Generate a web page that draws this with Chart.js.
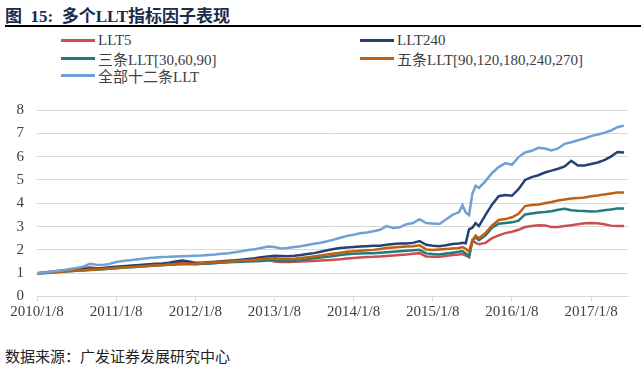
<!DOCTYPE html>
<html>
<head>
<meta charset="utf-8">
<script src="https://cdn.jsdelivr.net/npm/chart.js@4.4.1/dist/chart.umd.min.js"></script>
<style>
  html, body { margin: 0; padding: 0; background: #fff; }
  body { width: 644px; height: 367px; position: relative; overflow: hidden; font-family: "Liberation Serif", "Noto Sans CJK SC", serif; }
  #title { position: absolute; left: 5px; top: 2px; font-size: 17px; font-weight: bold; color: #1c2b4a; white-space: nowrap; }
  #rule { position: absolute; left: 5px; top: 25px; width: 636px; height: 2px; background: #000; }
  #legend { position: absolute; left: 61px; top: 32px; display: grid; grid-template-columns: 299px 260px; }
  .item { height: 17.5px; display: flex; align-items: center; font-size: 15px; color: #404040; white-space: nowrap; }
  .sw { width: 34px; height: 3px; margin-right: 3px; }
  #wrap { position: absolute; left: 0; top: 88px; width: 644px; height: 242px; }
  #source { position: absolute; left: 5px; top: 345px; font-size: 15px; color: #222; font-family: "Noto Sans CJK SC", sans-serif; white-space: nowrap; }
</style>
</head>
<body>
<div id="title">图&nbsp;&nbsp;15:&nbsp;&nbsp;多个LLT指标因子表现</div>
<div id="rule"></div>
<div id="legend"></div>
<div id="wrap"><canvas id="chart"></canvas></div>
<div id="source">数据来源：广发证券发展研究中心</div>
<script>
// months since 2010/1/8
const months = [
  0,1,2,3,4,5,6,7,8,9,10,11,12,13,14,15,16,17,18,19,20,21,22,23,24,25,26,27,28,29,
  30,31,32,33,34,35,36,37,38,39,40,41,42,43,44,45,46,47,48,49,50,51,52,53,54,55,56,57,58,59,
  60,61,62,63,64,64.5,65,65.5,66,66.5,67,
  68,69,70,71,72,73,74,75,76,77,78,79,80,81,82,83,84,85,86,87,88,89
];

const tickMonths = [0, 12, 24, 36, 48, 60, 72, 84];
const tickLabels = ['2010/1/8', '2011/1/8', '2012/1/8', '2013/1/8', '2014/1/8', '2015/1/8', '2016/1/8', '2017/1/8'];

const llt5 = [
  1.00,1.03,1.06,1.09,1.12,1.15,1.18,1.22,1.25,1.21,
  1.19,1.21,1.24,1.27,1.30,1.32,1.34,1.36,1.37,1.38,
  1.40,1.43,1.46,1.42,1.39,1.40,1.42,1.44,1.46,1.48,
  1.50,1.52,1.54,1.56,1.58,1.60,1.50,1.48,1.48,1.49,
  1.50,1.51,1.52,1.54,1.56,1.58,1.60,1.63,1.65,1.67,
  1.69,1.70,1.72,1.74,1.76,1.78,1.80,1.83,1.86,1.72,
  1.70,1.70,1.74,1.78,1.80,
  1.82,1.75,1.70,2.40,2.30,2.24,
  2.30,2.50,2.62,2.72,2.78,2.86,2.98,3.02,3.06,3.05,
  2.98,2.98,3.02,3.06,3.10,3.14,3.15,3.14,3.10,3.04,3.02,3.02
];
const llt240 = [
  1.00,1.02,1.04,1.07,1.10,1.13,1.15,1.17,1.19,1.20,
  1.22,1.25,1.28,1.30,1.32,1.34,1.36,1.38,1.40,1.42,
  1.45,1.50,1.54,1.50,1.45,1.45,1.47,1.49,1.51,1.53,
  1.55,1.58,1.61,1.64,1.68,1.72,1.75,1.74,1.73,1.75,
  1.78,1.82,1.86,1.92,1.98,2.04,2.08,2.10,2.12,2.14,
  2.16,2.18,2.18,2.22,2.25,2.27,2.27,2.30,2.38,2.22,
  2.18,2.16,2.20,2.25,2.27,
  2.30,2.28,2.88,2.95,3.15,3.02,
  3.50,3.95,4.30,4.35,4.32,4.60,5.00,5.12,5.20,5.32,
  5.40,5.48,5.58,5.82,5.62,5.62,5.68,5.75,5.85,6.00,6.20,6.18
];
const three = [
  1.00,1.00,1.02,1.04,1.06,1.08,1.10,1.12,1.14,1.15,
  1.17,1.19,1.21,1.23,1.25,1.27,1.29,1.31,1.33,1.34,
  1.36,1.37,1.39,1.38,1.38,1.40,1.42,1.44,1.46,1.47,
  1.48,1.49,1.50,1.51,1.52,1.54,1.54,1.52,1.51,1.53,
  1.56,1.60,1.64,1.67,1.70,1.74,1.78,1.81,1.83,1.84,
  1.85,1.86,1.88,1.90,1.92,1.94,1.96,1.98,2.00,1.85,
  1.82,1.80,1.84,1.88,1.92,
  1.95,1.85,1.70,2.38,2.54,2.42,
  2.62,2.95,3.12,3.15,3.18,3.25,3.52,3.56,3.60,3.62,
  3.66,3.72,3.76,3.70,3.68,3.67,3.65,3.66,3.70,3.73,3.77,3.78
];
const five = [
  1.00,1.01,1.03,1.05,1.07,1.09,1.11,1.13,1.15,1.16,
  1.18,1.20,1.22,1.24,1.26,1.28,1.30,1.32,1.34,1.35,
  1.37,1.38,1.40,1.40,1.41,1.43,1.45,1.47,1.49,1.50,
  1.52,1.54,1.56,1.58,1.60,1.63,1.64,1.62,1.60,1.62,
  1.65,1.68,1.72,1.76,1.80,1.84,1.88,1.92,1.94,1.96,
  1.98,2.00,2.04,2.08,2.10,2.12,2.14,2.16,2.20,2.02,
  2.00,2.02,2.04,2.06,2.08,
  2.12,2.05,1.93,2.41,2.61,2.50,
  2.72,3.05,3.28,3.32,3.40,3.55,3.88,3.92,3.95,4.00,
  4.05,4.12,4.16,4.20,4.22,4.25,4.30,4.33,4.38,4.42,4.46,4.46
];
const all12 = [
  1.00,1.03,1.06,1.09,1.13,1.18,1.22,1.28,1.40,1.36,
  1.35,1.40,1.48,1.52,1.55,1.59,1.62,1.65,1.67,1.69,
  1.70,1.72,1.73,1.74,1.75,1.76,1.78,1.80,1.83,1.86,
  1.90,1.94,1.99,2.03,2.08,2.14,2.12,2.06,2.08,2.12,
  2.16,2.21,2.26,2.31,2.37,2.44,2.52,2.60,2.65,2.71,
  2.75,2.80,2.86,3.02,2.94,2.97,3.10,3.15,3.32,3.15,
  3.13,3.11,3.30,3.50,3.62,
  3.92,3.60,3.49,4.40,4.75,4.66,
  4.95,5.30,5.55,5.72,5.65,5.98,6.18,6.25,6.38,6.35,
  6.27,6.35,6.55,6.62,6.70,6.78,6.88,6.95,7.02,7.12,7.26,7.33
];

const seriesNames = ['LLT5', 'LLT240', '三条LLT[30,60,90]', '五条LLT[90,120,180,240,270]', '全部十二条LLT'];
const seriesData = [llt5, llt240, three, five, all12];
const seriesColors = ['#c9504f', '#254270', '#227a7f', '#c0600f', '#729fd4'];

// legend (two columns like the original)
const legend = document.getElementById('legend');
seriesNames.forEach((name, i) => {
  const item = document.createElement('div');
  item.className = 'item';
  item.innerHTML = `<span class="sw" style="background:${seriesColors[i]}"></span>${name}`;
  legend.appendChild(item);
});

const tickFont = { family: '"Liberation Serif", serif', size: 15 };

new Chart(document.getElementById('chart'), {
  type: 'line',
  data: {
    datasets: seriesData.map((vals, i) => ({
      label: seriesNames[i],
      data: vals.map((v, j) => ({ x: months[j], y: v })),
      borderColor: seriesColors[i],
      borderWidth: 2.5,
      pointRadius: 0,
      tension: 0,
      order: seriesData.length - 1 - i
    }))
  },
  options: {
    responsive: true,
    maintainAspectRatio: false,
    animation: false,
    layout: { padding: { top: 11, right: 16, left: 0, bottom: 0 } },
    plugins: { legend: { display: false }, tooltip: { enabled: false } },
    scales: {
      x: {
        type: 'linear',
        min: 0,
        max: 89.6,
        afterBuildTicks: s => { s.ticks = tickMonths.map(v => ({ value: v })); },
        afterFit: s => { s.height = 33.5; },
        grid: { drawOnChartArea: false, drawTicks: true, tickLength: 5, color: '#d9d9d9' },
        border: { color: '#d9d9d9', width: 1 },
        ticks: {
          autoSkip: false,
          maxRotation: 0,
          padding: 2,
          color: '#404040',
          font: tickFont,
          callback: v => { const i = tickMonths.indexOf(v); return i >= 0 ? tickLabels[i] : ''; }
        }
      },
      y: {
        min: 0,
        max: 8,
        afterFit: s => { s.width = 37; },
        grid: { drawTicks: false, color: '#d9d9d9', lineWidth: 1 },
        border: { display: false },
        ticks: { stepSize: 1, padding: 13, color: '#404040', font: tickFont }
      }
    }
  }
});
</script>
</body>
</html>
